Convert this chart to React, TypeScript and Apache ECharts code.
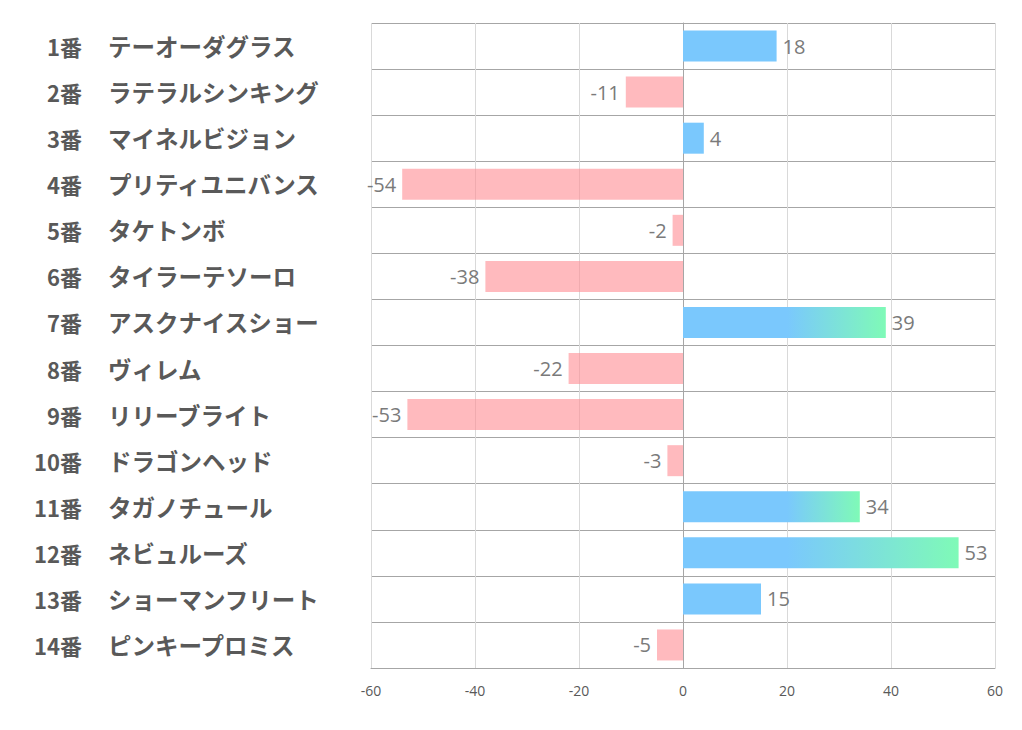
import React, { useEffect, useRef } from "react";
import * as echarts from "echarts";

const numbers = ["1番", "2番", "3番", "4番", "5番", "6番", "7番", "8番", "9番", "10番", "11番", "12番", "13番", "14番"];
const names = [
  "テーオーダグラス",
  "ラテラルシンキング",
  "マイネルビジョン",
  "プリティユニバンス",
  "タケトンボ",
  "タイラーテソーロ",
  "アスクナイスショー",
  "ヴィレム",
  "リリーブライト",
  "ドラゴンヘッド",
  "タガノチュール",
  "ネビュルーズ",
  "ショーマンフリート",
  "ピンキープロミス",
];
const values = [18, -11, 4, -54, -2, -38, 39, -22, -53, -3, 34, 53, 15, -5];
const axisMin = -60;
const axisMax = 60;
const axisStep = 20;

const BLUE = "#7ac8fd";
const GREEN = "#7ffab7";
const PINK = "rgba(255,140,146,0.6)";

const labelFont = {
  fontWeight: "bold" as const,
  color: "#595959",
  fontFamily: "Noto Sans CJK JP",
};

export default function App() {
  const ref = useRef<HTMLDivElement>(null);
  useEffect(() => {
    if (!ref.current) return;
    const chart = echarts.init(ref.current, undefined, { renderer: "svg" });
    const data = values.map((v) => {
      let color: any = PINK;
      if (v > 0) {
        if (v > 25) {
          color = new echarts.graphic.LinearGradient(0, 0, 1, 0, [
            { offset: 0, color: BLUE },
            { offset: 20 / v, color: BLUE },
            { offset: 1, color: GREEN },
          ]);
        } else color = BLUE;
      }
      return {
        value: v,
        itemStyle: { color },
        label: { position: v >= 0 ? "right" : "left" },
      };
    });
    chart.setOption({
      animation: false,
      grid: { left: 371, right: 27, top: 23, bottom: 62, containLabel: false },
      xAxis: {
        type: "value",
        min: axisMin,
        max: axisMax,
        interval: axisStep,
        axisLine: { show: true, lineStyle: { color: "#a6a6a6" } },
        axisTick: { show: false },
        splitLine: { show: true, lineStyle: { color: "#d9d9d9" } },
        axisLabel: { color: "#595959", fontSize: 14, fontFamily: "Open Sans", margin: 15 },
      },
      yAxis: [
        {
          type: "category",
          data: names,
          inverse: true,
          axisLine: { show: true, lineStyle: { color: "#a6a6a6" } },
          axisTick: { show: false },
          splitLine: { show: true, lineStyle: { color: "#a6a6a6" } },
          axisLabel: { align: "left", margin: 263, fontSize: 23.5, ...labelFont },
        },
        {
          type: "category",
          data: numbers,
          inverse: true,
          position: "left",
          offset: 0,
          axisLine: { show: false },
          axisTick: { show: false },
          splitLine: { show: false },
          axisLabel: { align: "right", margin: 289, fontSize: 22, ...labelFont },
        },
      ],
      series: [
        {
          type: "bar",
          data,
          barWidth: 31,
          label: {
            show: true,
            distance: 6,
            color: "#7a7a7a",
            fontSize: 20,
            fontFamily: "Open Sans",
          },
        },
      ],
    });
    return () => chart.dispose();
  }, []);
  return <div ref={ref} style={{ width: 1022, height: 730, position: "absolute", left: 0, top: 0 }} />;
}
